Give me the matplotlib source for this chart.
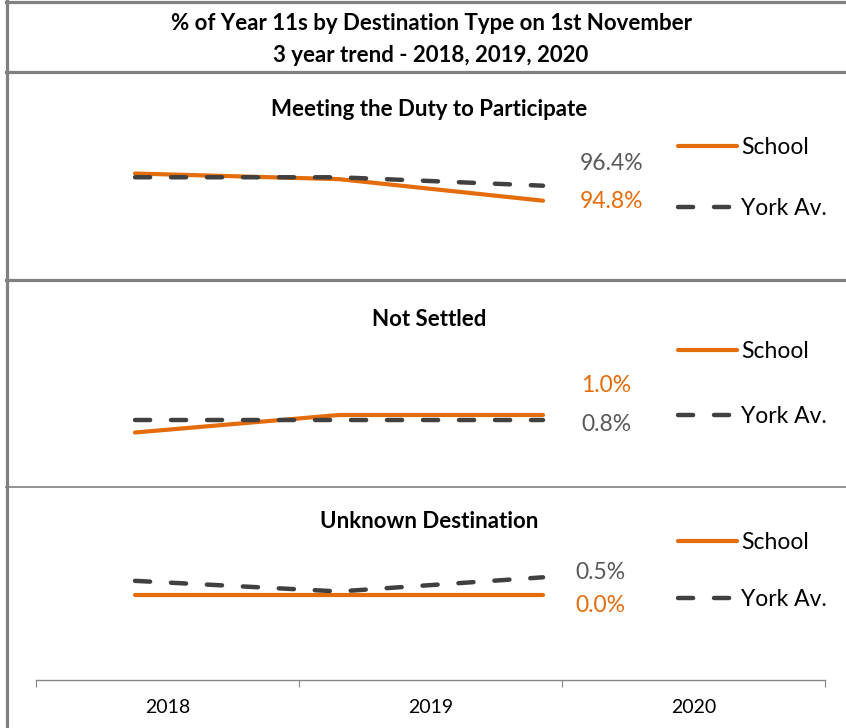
import matplotlib
matplotlib.use("Agg")
import matplotlib.pyplot as plt
from matplotlib.lines import Line2D

plt.rcParams['font.family'] = ['Lato', 'DejaVu Sans']

# data
years = ['2018', '2019', '2020']
panel_titles = ['Meeting the Duty to Participate', 'Not Settled', 'Unknown Destination']
school = [
    [97.7, 97.1, 94.8],
    [0.3, 1.0, 1.0],
    [0.0, 0.0, 0.0],
]
york = [
    [97.3, 97.3, 96.4],
    [0.8, 0.8, 0.8],
    [0.4, 0.1, 0.5],
]
title_lines = ['% of Year 11s by Destination Type on 1st November',
               '3 year trend - 2018, 2019, 2020']

ORANGE = '#E46C0A'
DARK = '#404040'
LABEL_GREY = '#595959'
BORDER = '#808080'

W, H = 846, 728
fig = plt.figure(figsize=(W / 100, H / 100), dpi=100)
PT = 72 / 100  # points per pixel


def fx(px):
    return px / W


def fy(py):
    return 1 - py / H


def hline(y, lw, x0=6, x1=W):
    fig.add_artist(Line2D([fx(x0), fx(x1)], [fy(y), fy(y)], color=BORDER,
                          lw=lw, transform=fig.transFigure))


# frame lines
fig.add_artist(Line2D([fx(7), fx(7)], [0, 1], color=BORDER, lw=2.3,
                      transform=fig.transFigure))
hline(2, 2.3)
hline(72, 2.3)
hline(280, 2.3)
hline(487, 1.2)

fig.text(fx(431), fy(23), title_lines[0], ha='center', va='center',
         fontsize=16, fontweight='bold')
fig.text(fx(431), fy(55), title_lines[1], ha='center', va='center',
         fontsize=16, fontweight='bold')

# pixel layout of each panel: (top, bottom, value anchor, anchor px, px per unit)
layout = [
    (80, 275, 94.8, 200.7, 9.375),
    (290, 482, 1.0, 415.0, 25.0),
    (495, 670, 0.0, 595.0, 35.4),
]
title_y = [110, 319, 521]
legend_y = [148, 352, 543]
legend_gap = [1.76, 1.94, 1.59]
# label pixel offsets upward (school, york) relative to the 2020 point
label_dy = [(-1, 22), (29, -5), (-11, 5)]
label_dx = [37, 38, 32]

x = list(range(len(years)))
X0, X1 = 36, 825
first_px, last_px = 135, 543
unit = (last_px - first_px) / (len(years) - 1)
xlim = (-(first_px - X0) / unit, (len(years) - 1) + (X1 - last_px) / unit)

for i in range(3):
    top, bot, v0, p0, scale = layout[i]
    ax = fig.add_axes([fx(X0), fy(bot), fx(X1) - fx(X0), (bot - top) / H])
    ax.axis('off')
    ax.set_xlim(xlim)
    ax.set_ylim(v0 - (bot - p0) / scale, v0 + (p0 - top) / scale)

    ls, = ax.plot(x, school[i], color=ORANGE, lw=3, solid_capstyle='round',
                  label='School', zorder=2)
    ly, = ax.plot(x, york[i], color=DARK, lw=3.2, dashes=(3.4, 4.7),
                  dash_capstyle='round', label='York Av.', zorder=3)

    sdy, ydy = label_dy[i]
    ax.annotate(f'{school[i][-1]:.1f}%', xy=(x[-1], school[i][-1]),
                xytext=(label_dx[i] * PT, sdy * PT), textcoords='offset points',
                ha='left', va='center', color=ORANGE, fontsize=16.5)
    ax.annotate(f'{york[i][-1]:.1f}%', xy=(x[-1], york[i][-1]),
                xytext=(label_dx[i] * PT, ydy * PT), textcoords='offset points',
                ha='left', va='center', color=LABEL_GREY, fontsize=16.5)

    fig.text(fx(429), fy(title_y[i]), panel_titles[i], ha='center',
             va='center', fontsize=16, fontweight='bold')

    fig.legend(handles=[ls, ly], loc='upper left',
               bbox_to_anchor=(fx(678), fy(legend_y[i] - 11)),
               frameon=False, fontsize=16.5, borderpad=0, borderaxespad=0,
               handlelength=2.58, handletextpad=0.17,
               labelspacing=legend_gap[i])

# category axis at the bottom
axb = fig.add_axes([fx(X0), fy(680), fx(X1) - fx(X0), 0.001])
axb.set_xlim(0, len(years))
axb.set_ylim(0, 1)
for s in ['top', 'left', 'right']:
    axb.spines[s].set_visible(False)
axb.spines['bottom'].set_color('#868686')
axb.spines['bottom'].set_linewidth(1.0)
axb.set_yticks([])
axb.set_xticks(range(len(years) + 1))
axb.set_xticklabels([])
axb.set_xticks([i + 0.5 for i in x], minor=True)
axb.set_xticklabels(years, minor=True, fontsize=14)
axb.tick_params(axis='x', which='major', length=5, color='#868686')
axb.tick_params(axis='x', which='minor', length=0, pad=14)

fig.savefig('out.png', dpi=100)
